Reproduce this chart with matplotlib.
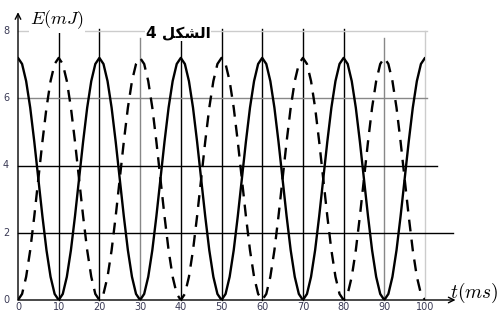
import matplotlib
matplotlib.use("Agg")
import matplotlib.pyplot as plt

plt.rcParams["mathtext.fontset"] = "cm"

# time (ms)
t = [0, 1, 2, 3, 4, 5, 6, 7, 8, 9, 10, 11, 12, 13, 14, 15, 16, 17, 18, 19,
     20, 21, 22, 23, 24, 25, 26, 27, 28, 29, 30, 31, 32, 33, 34, 35, 36, 37, 38, 39,
     40, 41, 42, 43, 44, 45, 46, 47, 48, 49, 50, 51, 52, 53, 54, 55, 56, 57, 58, 59,
     60, 61, 62, 63, 64, 65, 66, 67, 68, 69, 70, 71, 72, 73, 74, 75, 76, 77, 78, 79,
     80, 81, 82, 83, 84, 85, 86, 87, 88, 89, 90, 91, 92, 93, 94, 95, 96, 97, 98, 99,
     100]

# solid curve energy (mJ)
e_solid = [7.2, 7.02, 6.51, 5.72, 4.71, 3.6, 2.49, 1.48, 0.69, 0.18, 0.0, 0.18, 0.69, 1.48, 2.49, 3.6, 4.71, 5.72, 6.51, 7.02,
           7.2, 7.02, 6.51, 5.72, 4.71, 3.6, 2.49, 1.48, 0.69, 0.18, 0.0, 0.18, 0.69, 1.48, 2.49, 3.6, 4.71, 5.72, 6.51, 7.02,
           7.2, 7.02, 6.51, 5.72, 4.71, 3.6, 2.49, 1.48, 0.69, 0.18, 0.0, 0.18, 0.69, 1.48, 2.49, 3.6, 4.71, 5.72, 6.51, 7.02,
           7.2, 7.02, 6.51, 5.72, 4.71, 3.6, 2.49, 1.48, 0.69, 0.18, 0.0, 0.18, 0.69, 1.48, 2.49, 3.6, 4.71, 5.72, 6.51, 7.02,
           7.2, 7.02, 6.51, 5.72, 4.71, 3.6, 2.49, 1.48, 0.69, 0.18, 0.0, 0.18, 0.69, 1.48, 2.49, 3.6, 4.71, 5.72, 6.51, 7.02,
           7.2]

# dashed curve energy (mJ)
e_dashed = [0.0, 0.18, 0.69, 1.48, 2.49, 3.6, 4.71, 5.72, 6.51, 7.02, 7.2, 7.02, 6.51, 5.72, 4.71, 3.6, 2.49, 1.48, 0.69, 0.18,
            0.0, 0.18, 0.69, 1.48, 2.49, 3.6, 4.71, 5.72, 6.51, 7.02, 7.2, 7.02, 6.51, 5.72, 4.71, 3.6, 2.49, 1.48, 0.69, 0.18,
            0.0, 0.18, 0.69, 1.48, 2.49, 3.6, 4.71, 5.72, 6.51, 7.02, 7.2, 7.02, 6.51, 5.72, 4.71, 3.6, 2.49, 1.48, 0.69, 0.18,
            0.0, 0.18, 0.69, 1.48, 2.49, 3.6, 4.71, 5.72, 6.51, 7.02, 7.2, 7.02, 6.51, 5.72, 4.71, 3.6, 2.49, 1.48, 0.69, 0.18,
            0.0, 0.18, 0.69, 1.48, 2.49, 3.6, 4.71, 5.72, 6.51, 7.02, 7.2, 7.02, 6.51, 5.72, 4.71, 3.6, 2.49, 1.48, 0.69, 0.18,
            0.0]

x_ticks = [0, 10, 20, 30, 40, 50, 60, 70, 80, 90, 100]
y_ticks = [0, 2, 4, 6, 8]
dark_vlines = [10, 20, 40, 50, 60, 70, 80]
gray_vlines = [30, 90]
light_vlines = [100]

fig = plt.figure(figsize=(4.97, 3.13), dpi=100)
ax = fig.add_axes([18 / 497, 13 / 313, 407 / 497, 269 / 313])
ax.set_xlim(0, 100)
ax.set_ylim(0, 8)
for s in ax.spines.values():
    s.set_visible(False)

# grid
for v in dark_vlines:
    ax.plot([v, v], [0, 8.05], color="black", lw=1.0, clip_on=False, zorder=1)
for v in gray_vlines:
    ax.plot([v, v], [0, 7.8], color="#888888", lw=1.0, clip_on=False, zorder=1)
for v in light_vlines:
    ax.plot([v, v], [0, 8], color="#cccccc", lw=1.0, clip_on=False, zorder=1)
ax.plot([0, 100.5], [8, 8], color="#cccccc", lw=1.0, clip_on=False, zorder=1)
ax.plot([0, 100.5], [6, 6], color="#888888", lw=1.0, clip_on=False, zorder=1)
ax.plot([0, 103], [4, 4], color="black", lw=1.0, clip_on=False, zorder=1)
ax.plot([0, 107], [2, 2], color="black", lw=1.0, clip_on=False, zorder=1)

# curves
ax.plot(t, e_solid, color="black", lw=1.7, zorder=3, solid_capstyle="round")
ax.plot(t, e_dashed, color="black", lw=1.7, zorder=3, dashes=(5, 3.5))

# axes arrows
ax.annotate("", xy=(1.075, 0), xytext=(0, 0), xycoords="axes fraction",
            arrowprops=dict(arrowstyle="->", color="black", lw=1.0, shrinkA=0, shrinkB=0))
ax.annotate("", xy=(0, 1.07), xytext=(0, 0), xycoords="axes fraction",
            arrowprops=dict(arrowstyle="->", color="black", lw=1.0, shrinkA=0, shrinkB=0))

ax.set_xticks([])
ax.set_yticks([])
for v in x_ticks:
    ax.text(v, -0.06, str(v), ha="center", va="top", fontsize=7, color="#3a3a55", clip_on=False)
for v in y_ticks:
    ax.text(-2.2, v, str(v), ha="right", va="center", fontsize=7, color="#3a3a55", clip_on=False)

fig.text(57 / 497, 1 - 20 / 313, r"$E(mJ)$", fontsize=13, ha="center", va="center",
         bbox=dict(facecolor="white", edgecolor="none", pad=1))
fig.text(474 / 497, 1 - 293 / 313, r"$t(ms)$", fontsize=14, ha="center", va="center")
fig.text(178 / 497, 1 - 33 / 313, "4 \uFEDE\uFEDC\uFEB8\uFEDF\uFE8D", fontsize=11, fontweight="bold",
         family=["DejaVu Sans"], ha="center", va="center",
         bbox=dict(facecolor="white", edgecolor="none", pad=0.5))

fig.savefig("out.png", dpi=100)
